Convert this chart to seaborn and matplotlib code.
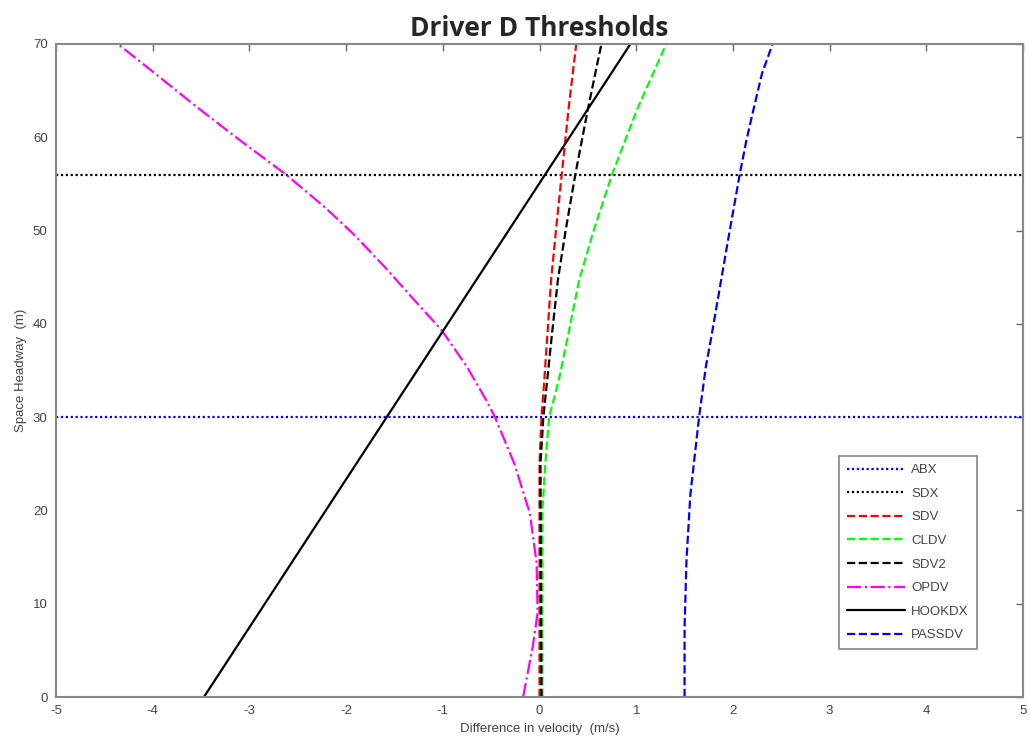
import numpy as np
import pandas as pd
import seaborn as sns
import matplotlib.pyplot as plt

# values (x = difference in velocity, y = headway)
ABX = 30
SDX = 56

sdv_y = [0, 25, 30, 34, 44.7, 50, 56, 63, 70]
sdv_x = [0.0, 0.0, 0.02, 0.05, 0.12, 0.17, 0.23, 0.30, 0.38]

cldv_y = [0, 20, 25, 30, 34, 39, 44.7, 50, 56, 63, 70]
cldv_x = [0.03, 0.03, 0.06, 0.10, 0.20, 0.30, 0.41, 0.56, 0.75, 1.01, 1.31]

sdv2_y = [0, 25, 30, 34, 39, 44.7, 50, 56, 63, 70]
sdv2_x = [0.02, 0.01, 0.04, 0.08, 0.13, 0.19, 0.27, 0.37, 0.50, 0.64]

opdv_y = [0, 5.4, 9, 14.4, 19.7, 25, 30, 31.8, 35.4, 39.3, 42.5, 46.1, 49.7,
          52.5, 56, 59.7, 63.3, 66.8, 70]
opdv_x = [-0.17, -0.07, -0.02, -0.03, -0.10, -0.26, -0.46, -0.55, -0.75, -1.01,
          -1.29, -1.60, -1.93, -2.22, -2.62, -3.10, -3.55, -3.97, -4.36]

hook_y = [0, 70]
hook_x = [-3.47, 0.94]

pass_y = [0, 7.5, 14.7, 21.7, 30, 35.4, 38.2, 41.8, 45.4, 49.0, 52.5, 56, 59.7,
          63.3, 66.8, 70]
pass_x = [1.50, 1.50, 1.52, 1.56, 1.65, 1.72, 1.77, 1.83, 1.89, 1.95, 2.01,
          2.07, 2.14, 2.22, 2.30, 2.41]

sns.set_style("white")
plt.rcParams['font.family'] = ['Liberation Sans', 'DejaVu Sans']
plt.rcParams['axes.unicode_minus'] = False

fig = plt.figure(figsize=(10.29, 7.43), dpi=100)
ax = fig.add_axes([0.0544, 0.0619, 0.9398, 0.8789])

ax.axhline(ABX, color='#0000ff', linestyle=(0, (1, 1.2)), linewidth=1.6, label='ABX')
ax.axhline(SDX, color='black', linestyle=(0, (1, 1.2)), linewidth=1.6, label='SDX')

curves = [
    ('SDV', sdv_x, sdv_y, '#ff0000', '--'),
    ('CLDV', cldv_x, cldv_y, '#00ff00', '--'),
    ('SDV2', sdv2_x, sdv2_y, 'black', '--'),
    ('OPDV', opdv_x, opdv_y, '#ff00ff', '-.'),
    ('HOOKDX', hook_x, hook_y, 'black', '-'),
    ('PASSDV', pass_x, pass_y, '#0000ff', '--'),
]
for name, xs, ys, col, ls in curves:
    df = pd.DataFrame({'x': xs, 'y': ys})
    sns.lineplot(data=df, x='x', y='y', sort=False, estimator=None, color=col,
                 linestyle=ls, linewidth=1.6, label=name, ax=ax)

ax.set_xlim(-5, 5)
ax.set_ylim(0, 70)
ax.set_xticks(np.arange(-5, 6, 1))
ax.set_yticks(np.arange(0, 71, 10))
ax.tick_params(direction='in', length=5, width=1, colors='#666666',
               labelsize=9.5, top=True, right=True, pad=6)
ax.tick_params(labelcolor='#444444')
for s in ax.spines.values():
    s.set_color('#888888')
    s.set_linewidth(1.5)

ax.set_xlabel('Difference in velocity  (m/s)', fontsize=9.5, color='#444444')
ax.set_ylabel('Space Headway  (m)', fontsize=9.5, color='#444444')
ax.set_title('Driver D Thresholds', fontsize=19, fontweight='bold',
             family=['Open Sans', 'DejaVu Sans'], pad=6)

leg = ax.legend(loc='lower right', bbox_to_anchor=(0.959, 0.063), fontsize=9.5,
                frameon=True, fancybox=False, handlelength=4.4, handletextpad=0.5,
                labelspacing=0.86, borderpad=0.6)
leg.get_frame().set_edgecolor('#666666')
leg.get_frame().set_linewidth(1.2)
for t in leg.get_texts():
    t.set_color('#444444')

fig.savefig('out.png', dpi=100)
